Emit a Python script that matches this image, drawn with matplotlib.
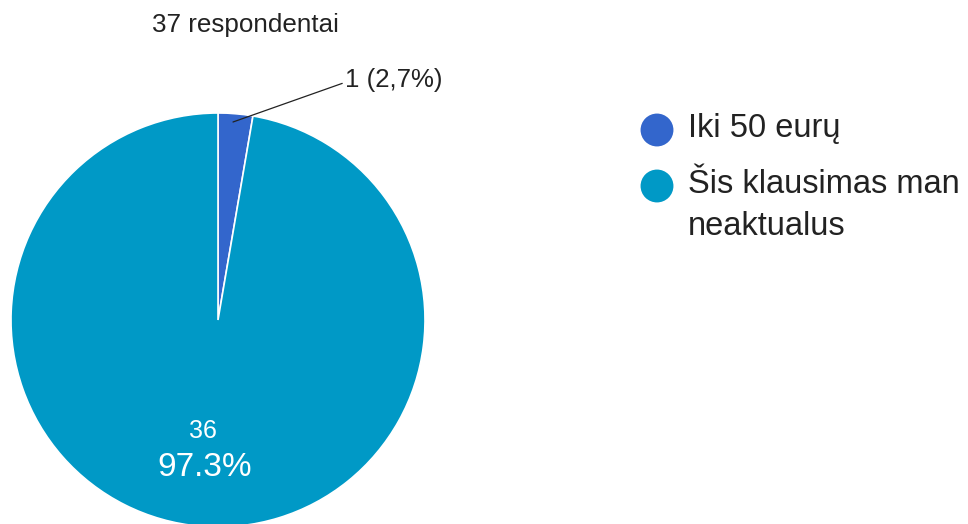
import matplotlib
matplotlib.use("Agg")
import matplotlib.pyplot as plt

# dane z ankiety
categories = ['Iki 50 eurų', 'Šis klausimas man\nneaktualus']
counts = [1, 36]
colors = ['#3366CC', '#0099C6']
title = '37 respondentai'

plt.rcParams['font.family'] = ['Liberation Sans', 'DejaVu Sans']

W, H = 968, 524
fig = plt.figure(figsize=(W / 100, H / 100), dpi=100)
ax = fig.add_axes([0, 0, 1, 1])

cx, cy, r = 218, H - 320, 207
wedges, _ = ax.pie(counts, colors=colors, startangle=90, counterclock=False,
                   center=(cx, cy), radius=r, frame=True,
                   wedgeprops=dict(edgecolor='white', linewidth=1.2))
ax.set_xlim(0, W)
ax.set_ylim(0, H)
ax.set_aspect('equal')
ax.axis('off')

total = sum(counts)
# mazas segmentas - etikete su linija
pct_small = counts[0] / total * 100
lbl_small = f"{counts[0]} ({pct_small:.1f}%)".replace('.', ',')
ax.annotate(lbl_small, xy=(233, H - 122), xytext=(345, H - 80),
            fontsize=18.6, color='#222222', va='center', ha='left',
            arrowprops=dict(arrowstyle='-', color='#222222', lw=0.9,
                            shrinkA=0, shrinkB=0, relpos=(0, 0.4)))

# didelis segmentas - etikete viduje
pct_big = counts[1] / total * 100
ax.text(203, H - 431, str(counts[1]), color='white', fontsize=18,
        ha='center', va='center')
ax.text(205, H - 467, f"{pct_big:.1f}%", color='white', fontsize=24,
        ha='center', va='center')

ax.text(152, H - 25, title, fontsize=18.7, color='#222222', ha='left', va='center')

# legenda
leg_y = [130, 186]
for c, lab, y in zip(colors, categories, leg_y):
    ax.scatter([657], [H - y], s=560, color=c, edgecolors='none')
    ax.text(688, H - y + 17, lab, fontsize=23.5, color='#222222', ha='left', va='top',
            linespacing=1.45)

fig.savefig('out.png', dpi=100)
